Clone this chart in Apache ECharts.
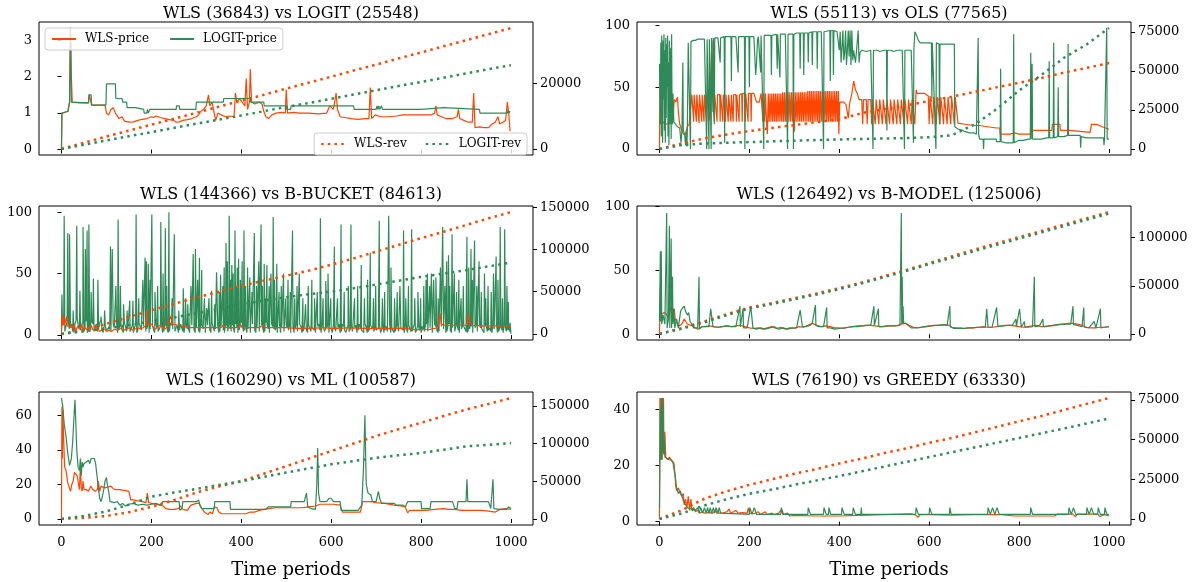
<!DOCTYPE html>
<html><head><meta charset="utf-8">
<script src="https://cdn.jsdelivr.net/npm/echarts@6/dist/echarts.min.js"></script>
<style>html,body{margin:0;padding:0;background:#fff}#c{width:1199px;height:582px}</style>
</head><body><div id="c"></div>
<script>
// ---------------- DATA ----------------
const xTicks = [0, 200, 400, 600, 800, 1000];
const revT = [0,50,100,150,200,250,300,350,400,450,500,550,600,650,700,750,800,850,900,950,1000];

const titles = ['WLS (36843) vs LOGIT (25548)', 'WLS (55113) vs OLS (77565)',
  'WLS (144366) vs B-BUCKET (84613)', 'WLS (126492) vs B-MODEL (125006)',
  'WLS (160290) vs ML (100587)', 'WLS (76190) vs GREEDY (63330)'];

// Panel 1 : WLS vs LOGIT  (flat [t, price, t, price, ...])
const wlsPriceLogit = [0,0,1,1.0,8,1.02,15,1.05,18,1.3,20,3.3,22,2.0,24,1.3,40,1.28,60,1.28,62,1.5,65,1.45,67,1.22,97,1.22,100,1.0,105,0.95,110,1.1,115,1.15,120,1.0,128,0.85,135,0.9,140,0.78,150,0.75,160,0.76,170,0.8,180,0.83,190,0.85,200,0.9,205,0.88,210,0.92,220,0.88,230,0.85,240,0.82,250,0.8,255,0.75,262,0.76,270,0.8,280,0.82,290,0.85,300,0.9,305,0.95,310,1.05,316,1.1,322,1.2,327,1.5,330,1.2,335,1.3,339,1.25,343,0.8,348,1.0,355,0.95,365,0.9,375,0.92,384,0.9,387,1.55,390,1.3,396,1.4,402,1.3,408,1.2,411,1.95,414,1.1,418,1.3,420,2.2,423,1.3,430,1.25,440,1.3,446,1.25,450,1.05,455,0.9,461,0.85,468,0.95,477,1.0,490,1.02,498,1.0,500,1.65,503,1.0,515,1.02,530,1.0,550,1.0,570,0.98,590,1.0,597,1.2,605,1.1,611,1.55,614,1.1,620,0.9,630,0.88,645,0.85,660,0.83,675,0.85,684,0.85,687,1.7,690,0.85,698,0.95,710,0.9,730,0.9,745,0.92,760,0.95,780,0.95,800,0.95,822,0.95,830,1.0,833,1.2,836,0.95,845,0.9,855,0.85,870,0.85,880,0.9,883,1.1,886,0.85,895,0.8,905,0.75,914,0.75,917,1.55,920,0.6,930,0.62,940,0.6,950,0.6,958,0.7,965,0.75,971,0.9,975,0.7,982,0.75,988,0.8,992,1.3,995,1.0,998,0.5];
const logitPrice = [0,0,1,1.0,8,1.03,14,1.05,18,1.3,20,3.35,22,1.3,60,1.28,61,1.5,66,1.5,67,1.22,99,1.22,100,1.8,120,1.8,121,1.4,135,1.4,136,1.3,145,1.3,146,1.15,165,1.15,166,1.1,183,1.1,184,1.0,190,1.0,191,1.1,193,1.0,196,1.1,255,1.1,256,1.2,262,1.2,263,1.1,299,1.1,300,1.3,360,1.3,361,1.4,420,1.4,421,1.3,450,1.3,451,1.2,500,1.2,501,1.1,510,1.1,511,1.2,650,1.2,651,1.1,700,1.1,702,1.2,704,1.1,706,1.2,708,1.1,712,1.2,714,1.1,800,1.1,801,1.15,850,1.15,851,1.1,930,1.1,931,1.0,992,1.0,994,1.1,996,1.0,998,1.05];
const wlsRevLogit = [0,1900,3800,5600,7400,9200,11000,12900,14700,16500,18400,20200,22000,23900,25700,27600,29400,31300,33100,35000,36843];
const logitRev = [0,1300,2600,3900,5100,6400,7700,8900,10200,11500,12800,14000,15300,16600,17900,19200,20400,21700,23000,24300,25548];

// Panel 2 : WLS vs OLS
const wlsPriceOls = [0,0,1,66,2,25,3,40,5,20,10,22,15,20,20,21,25,22,28,35,30,25,33,40,36,38,40,42,42,30,45,20,50,15,53,12,58,12,62,18,66,20,70,21,
 72,44,75,43,76,22,77,44,81,44,82,22,83,44,87,44,88,21,89,44,93,44,94,22,95,44,98,44,99,22,100,44,104,44,105,22,106,44,110,44,111,23,112,44,116,44,117,88,118,44,121,44,122,22,123,44,127,44,128,22,129,44,134,44,135,22,136,44,140,44,141,22,142,44,146,44,147,22,148,44,152,44,153,22,154,44,158,44,159,22,160,44,163,44,164,22,165,44,170,44,171,22,172,44,176,44,177,22,178,44,183,45,184,22,185,45,190,45,191,22,192,45,196,45,197,22,198,45,203,45,204,22,205,45,210,45,213,45,216,38,222,38,226,45,
 228,45,230,22,232,45,234,22,236,45,238,22,240,12,242,45,244,22,246,45,248,22,250,45,252,22,254,45,256,22,258,45,260,22,262,45,264,22,266,45,268,22,270,45,272,22,274,46,276,22,278,46,280,22,282,46,284,22,286,46,288,22,290,46,292,22,294,46,296,22,298,46,300,14,302,46,304,22,306,46,308,22,310,46,312,22,314,46,316,22,318,46,320,22,322,46,324,22,326,46,328,22,330,47,332,22,334,47,336,22,338,47,340,22,342,47,344,22,346,47,348,22,350,47,352,22,354,47,356,22,358,47,360,22,362,47,364,22,366,47,368,22,370,47,372,22,374,47,376,22,378,47,380,22,382,47,384,22,386,47,388,22,390,47,392,22,394,47,396,22,398,47,
 399,12,401,38,405,37,410,38,415,36,420,25,423,37,428,45,432,55,436,48,440,45,444,40,450,40,452,20,454,40,460,40,462,20,464,40,470,40,472,20,474,40,478,40,480,20,482,40,486,40,488,20,490,40,494,40,496,20,498,40,502,40,504,20,506,40,510,40,512,20,514,40,518,40,520,20,522,40,526,40,528,20,530,40,534,40,536,20,538,40,542,40,544,20,546,40,550,40,552,20,554,40,558,40,560,20,562,40,566,40,568,20,571,48,573,45,580,45,590,45,598,43,600,20,602,43,606,42,608,20,610,42,614,42,616,20,618,42,622,42,624,20,626,42,630,42,632,20,634,42,638,42,640,20,642,42,646,42,648,20,650,42,654,42,656,20,658,42,662,42,664,21,680,20,700,19,712,19,730,18,750,17,757,17,758,12,780,12,790,13,800,12,825,12,826,15,850,15,873,15,874,20,891,20,892,15,912,15,913,13.5,958,13.5,961,20,972,20,985,18,1000,16];
const olsPrice = [0,69,2,20,3,86,4,10,5,92,6,30,7,5,8,88,9,40,10,93,11,15,12,80,13,5,14,90,15,25,16,85,17,50,18,92,19,10,20,70,21,3,22,88,23,20,24,60,25,82,26,8,27,93,28,30,29,20,30,45,32,22,36,20,40,18,45,17,48,5,50,15,52,70,53,15,56,12,58,3,60,15,61,2,62,16,64,86,66,87,68,87,69,0,70,87,75,88,80,88,85,89,90,89,100,89,104,89,105,0,106,89,109,89,110,0,111,89,114,90,115,0,116,90,118,90,119,30,120,90,122,20,123,90,130,90,134,90,135,70,136,90,140,90.5,144,91,145,5,146,91,150,91,159,91,160,55,161,91,170,91,174,91,175,62,176,91,180,91,189,91,190,0,191,91,199,91,200,50,201,91,210,91,213,91,214,60,216,70,218,88,220,91,224,92,225,62,226,92,230,92,231,92,232,0,233,92,240,92,248,92,249,60,250,92,260,93,262,65,263,93,267,93,268,58,269,93,280,93,284,93,285,0,286,93,290,93,297,93,298,0,299,93,305,94,312,94,313,65,314,94,320,94,321,60,322,94,330,94,331,70,332,94,339,95,340,68,341,95,350,95,351,65,352,95,360,95,364,95,365,0,366,95,370,96,379,96,380,55,381,96,386,96,387,60,388,96,395,95,398,95,400,80,402,95,404,70,406,82,408,96,410,72,412,78,414,96,416,68,418,80,420,96,422,75,424,96,426,68,428,96,430,72,432,80,436,70,438,78,442,96,444,70,446,78,450,80,452,80,460,79,470,80,475,0,476,80,485,80,490,79,500,80,505,80,506,15,507,80,515,80,520,79,530,80,540,80,545,0,546,80,555,80,560,80,565,5,566,80,568,95,572,92,576,88,580,86,590,86,600,86,605,86,606,40,607,86,610,86,615,0,616,86,620,85,622,85,623,20,624,85,630,85,640,85,650,85,656,85,657,18,665,16,675,15,680,14,690,13,700,13,705,12,708,12,709,90,710,12,712,8,720,8,721,0,722,8,730,8,740,8,749,8,750,6,758,6,759,65,760,6,770,5,780,5,787,5,788,93,789,5,794,6,800,7,810,7,820,8,825,8,826,78,827,8,829,69,830,8,840,8,850,8,860,9,866,9,867,71,868,9,876,9,877,86,878,9,886,10,887,50,888,10,900,10,908,11,909,85,910,11,920,11,930,11,936,11,937,1,938,10,950,9,960,9,970,9,980,9,988,9,989,3,990,8,994,8,995,98,996,8,1000,8];
const wlsRevOls = [0,3500,6800,9300,11500,13500,15300,17200,19000,23000,25500,28000,30800,33500,36500,39500,42500,45500,49000,52000,55113];
const olsRev = [0,2500,3500,4000,4400,4900,5300,5700,6100,6400,6700,7000,7500,8800,15500,25500,37500,47500,58500,67000,77565];

// Panel 3 : WLS vs B-BUCKET
const wlsPriceBucket = [0,0,1,16,3,8,5,16,6,8,10,7,12,15,13,8,18,6,22,9,25,5,28,8,32,4,36,7,40,5,45,9,48,4,52,6,58,4,62,5,66,8,70,4,76,5,80,7,84,3,90,4,96,5,100,3,106,4,112,3,118,5,124,4,130,5,136,6,140,4,146,5,152,6,158,4,164,5,170,6,176,5,182,6,188,8,190,18,192,8,196,7,200,9,205,6,210,5,215,7,220,8,225,6,230,5,236,7,240,6,244,16,246,9,250,8,260,8,270,7,280,6.5,290,6,300,6,320,6,340,6,355,6,360,8,364,6,380,6,395,6,398,9,402,6,420,6,440,6,447,8,452,6,470,6,500,6,520,5.5,540,5.5,560,5.5,580,6,600,5.5,620,5.5,640,6,660,5.5,680,5.5,700,5.5,720,5.5,740,5.5,760,5.5,775,5,780,4.5,800,4.5,820,4.6,830,5.5,838,6,842,18,845,9,850,8,870,8,890,8,902,8,906,17,909,9,915,8,930,7.5,950,7.5,970,7.5,1000,7.5];
// B-BUCKET price: levels at t = 0,5,10,... ; levels at t = 2.5,7.5,... ; single-period spikes [t, price]
const bucketBaseA = [5,10,4,12,6,3,9,14,5,8,3,11,6,4,9,7,3,10,5,8,4,
 6,3,9,5,2,8,4,10,3,6,5,2,9,4,7,3,8,5,2,6,
 4,9,3,7,2,10,5,3,8,4,6,2,9,3,7,5,2,8,4,6,
 3,9,5,2,8,4,10,3,6,2,7,4,9,3,5,8,2,6,4,10,
 3,7,5,2,9,4,6,3,8,2,10,5,3,7,4,2,9,6,3,8,
 4,2,7,5,3,9,2,6,4,8,3,5,2,7,4,9,3,6,2,5,
 8,3,6,2,9,4,5,3,7,2,8,4,6,3,9,2,5,7,3,4,
 6,2,8,4,3,9,5,2,7,3,6,4,8,2,5,3,9,4,6,2,
 5,8,3,6,2,9,4,3,7,5,2,8,4,6,3,9,2,5,7,3,
 4,8,2,6,3,9,5,2,7,4,3,8,5,2,6,4,9,3,5,1];
const bucketBaseB = [8,3,11,5,9,2,12,7,4,10,6,2,8,11,3,9,5,12,2,7,
 3,8,2,6,10,4,7,2,9,5,3,8,6,2,10,4,7,3,9,5,
 8,2,6,4,9,3,7,2,10,5,3,8,4,6,2,9,5,3,7,2,
 6,2,8,4,3,7,2,9,5,8,3,6,2,7,10,3,5,9,2,7,
 8,4,2,6,3,10,2,7,4,6,3,8,2,9,5,6,3,2,7,4,
 6,8,3,2,9,4,7,3,5,2,8,6,4,3,9,2,7,5,8,3,
 2,6,4,9,3,7,2,8,5,3,6,2,9,4,2,7,3,8,5,6,
 3,8,5,2,7,4,2,6,3,9,4,7,2,5,8,3,6,2,8,4,
 7,3,9,4,6,3,7,2,4,8,6,3,9,2,5,7,4,2,8,6,
 2,5,7,3,9,2,6,4,8,3,6,2,5,9,3,7,2,6,4,3];
const bucketSpikes = [1,33,6,97,14,83,18,82,26,20,34,89,41,36,48,88,53,70,57,85,61,90,66,35,71,46,81,45,88,15,96,20,109,72,113,70,121,40,126,94,131,40,138,25,146,20,152,28,159,28,166,98,172,30,181,45,186,63,189,60,193,58,197,45,201,98,208,35,214,40,221,92,226,50,231,87,234,40,239,100,246,30,251,82,261,20,271,38,276,30,281,25,288,40,293,66,298,70,303,45,307,63,312,53,318,30,323,22,328,30,334,36,341,25,345,51,351,35,354,49,359,40,362,55,366,75,369,60,373,97,376,45,379,57,382,50,386,85,388,40,391,55,394,62,398,45,402,60,406,85,409,40,414,55,419,47,424,35,429,83,434,40,439,60,444,90,447,40,451,58,454,30,457,57,462,40,466,50,471,96,474,45,479,58,484,35,489,40,494,50,499,30,504,45,509,35,514,85,519,30,524,40,529,50,537,30,543,25,549,40,557,45,563,30,569,35,576,95,582,30,588,44,593,50,599,30,607,72,614,30,622,90,629,35,638,40,644,90,652,30,659,40,667,57,674,30,681,45,687,67,694,30,699,40,707,93,714,30,719,35,728,97,733,55,741,30,747,35,753,40,761,85,766,30,772,40,779,86,786,30,793,35,799,30,806,40,811,45,814,50,819,40,823,50,828,45,833,47,838,30,843,55,848,88,853,40,857,60,861,65,864,40,869,82,874,50,879,35,884,45,889,30,894,40,902,80,906,55,911,70,914,45,919,77,924,40,929,60,934,35,941,50,944,30,949,40,956,35,961,50,967,64,971,45,976,88,981,30,986,86,991,40,994,27,998,10];
const wlsRevBucket = [0,5000,12000,20000,28000,35500,43000,50000,57000,63000,69000,75000,82000,89500,97500,105500,113500,121000,129000,137000,144366];
const bucketRev = [0,3000,6500,10500,15000,19500,24500,29500,35000,39500,43500,47000,50000,54000,58500,63000,67500,71500,75500,80000,84613];

// Panel 4 : WLS vs B-MODEL
const wlsPriceModel = [0,0,2,38,3,15,6,16,10,17,15,16,20,13,24,12,26,22,28,15,31,18,33,20,35,12,38,10,42,6,46,5,50,8,55,12,58,11,62,8,66,9,70,7,75,6,80,5,85,4,90,5,95,6,100,6,110,6.5,120,6,130,5.5,140,6,150,6.5,160,6,170,6.5,180,7,190,6,200,5,210,4.5,220,5,230,4,240,5,250,6,260,4.5,270,5.5,280,4,290,5,300,4.5,310,6,320,5.5,330,7,340,8.5,350,7,360,6,370,6.5,380,6,390,5,400,5,410,4.5,420,5.5,430,6,440,6.5,450,6.5,460,7,470,7,480,6.5,490,6,500,6,510,6.5,520,6.5,530,7,538,8,542,9,548,8.5,555,7,565,5.5,575,5,585,5.5,595,6,605,6.5,615,7,625,7,635,7.5,645,7,650,5.5,660,5,670,5,680,4.5,690,5,700,5,710,5.5,720,6,730,5.5,740,5.5,750,6,760,6.5,770,7,780,7,790,6.5,800,6,810,5.5,820,6,830,6.5,840,7,850,6,860,6,870,6.5,880,7,890,7.5,900,8,910,8.5,920,8.5,930,8,940,7,950,5.5,960,5,970,5,980,5.5,990,5.5,1000,6];
const modelPrice = [0,10,2,65,3,10,4,65,5,8,8,15,12,8,16,95,17,5,20,12,22,85,23,5,26,75,27,5,29,45,30,8,32,20,34,5,38,12,42,5,47,18,50,20,55,22,58,18,62,15,65,17,68,10,72,8,76,5,80,4,85,5,88,45,89,4,95,6,100,6,110,6,114,20,118,20,119,6,130,5.5,140,6,150,6.5,160,6,170,6,179,22,180,6,186,20,187,5,195,5,203,22,207,22,208,5,215,4,225,5,235,4,245,5,255,6,265,4,275,5,285,4,295,5,305,5,313,19,317,19,318,6,325,6,335,7,340,9,347,23,348,7,355,6,365,6,372,21,373,5,380,5,390,4,400,4.5,410,5,420,5.5,430,6,440,6,450,6.5,460,7,470,7,477,22,478,7,487,20,488,6,495,6,505,6.5,515,6.5,525,6.5,535,7,538,95,539,8,540,45,541,8,542,22,543,9,550,8,560,5,570,5,580,5.5,590,6,600,6.5,610,7,620,7,630,7.5,640,7,646,22,647,6,655,4.5,665,4.5,675,4.5,685,5,695,5,705,5.5,715,5.5,725,5.5,728,20,730,20,731,5.5,740,5.5,750,21,752,21,753,6,765,6.5,775,7,785,7,793,12,794,6,801,20,804,20,805,5.5,812,10,813,5.5,820,5.5,830,6,834,45,835,6,845,6.5,853,12,854,6,865,6.5,875,7,885,7.5,895,8,905,8,915,8,920,22,921,7.5,930,7,940,6,944,21,945,5.5,955,5,967,10,970,10,971,5,981,20,982,5,990,5.5,1000,6];
const wlsRevModel = [0,6000,13000,20500,27500,32000,37000,42000,47500,53500,60000,66500,73500,80500,87500,94000,100500,107000,113500,120000,126492];
const modelRev = [0,5500,12000,19500,26500,31000,36000,41000,46500,52500,59000,65500,72500,79000,86000,92500,99000,105500,112000,118500,125006];

// Panel 5 : WLS vs ML
const wlsPriceMl = [0,0,1,65,2,35,3,63,5,45,7,30,10,28,12,27,14,21,17,20,20,16,23,20,26,22,29,27,32,28,35,25,38,20,40,17,42,30,44,18,46,16,48,22,50,17,55,17,60,16,65,19,70,17,75,16,80,17,82,22,85,16,88,19,92,19,96,18,100,19,110,19,115,17.5,120,17,130,17,140,16.5,150,16,154,11,160,11,170,10.5,180,10,188,9.5,191,15,194,9.5,200,9,210,8.5,220,8,226,7.5,232,6,240,5.5,250,5.5,260,6,265,7.5,270,5.5,280,5,288,8,300,9,306,9,310,7,318,4,322,5,326,2.5,330,4,336,3,340,7,346,6.5,350,4,356,3,365,3,380,3,395,3,410,3,420,4,430,4,440,5,450,5.5,460,6,475,6.5,490,6.5,505,6.5,520,6.5,535,6.5,550,7,565,7.5,575,8.5,590,8.5,605,8.5,620,8,625,4,640,4,655,4,665,4,670,10,680,10,690,10,700,9.5,720,9,740,8,755,7.5,765,7,770,3.5,775,5,790,5,810,5,830,5.5,850,6,860,5.5,875,5.5,890,5,905,5,920,5,935,5,950,4.5,965,4,975,5.5,990,6,1000,5.5];
const mlPrice = [0,70,3,65,6,55,10,48,14,38,18,31,22,35,25,45,28,60,30,69,32,55,34,40,37,30,40,28,42,35,44,25,46,33,48,30,50,32,55,33,60,34,63,32,66,35,70,34,73,35,76,32,79,25,82,18,85,12,88,10,91,13,94,17,97,22,100,24,102,20,105,16,108,10,112,10,118,9.5,124,10,130,8,136,9,142,7.5,150,8.5,160,9,170,8,180,8.5,190,8,200,8.5,210,9,220,8,225,10,240,10,255,10,262,10,263,5,268,6,270,10,290,10,300,10,305,11,308,8,312,6,320,6,340,6,341,10,375,10,376,5.5,400,5.5,430,5.5,455,5.5,460,7,480,7,500,7,510,7,511,10,540,10,545,15,548,7,555,6,565,5.5,568,20,570,41,572,15,575,10,590,10,595,12,600,12,605,10,620,10,622,5,660,5,668,8,672,30,675,60,678,20,682,15,688,14,692,10,700,10,705,16,708,12,712,9,740,9,745,8,760,8,765,7,770,10,800,10,801,6,820,6,822,10,850,10,870,10,875,6,880,6,882,10,900,10,902,23,904,10,930,10,950,10,955,6,958,6,960,23,962,6,975,5.5,990,5.5,995,7,1000,6];
const wlsRevMl = [0,1500,4000,9000,16000,25000,35000,43000,50000,60000,70000,80000,90000,100000,110000,119000,127500,136500,145000,152500,160290];
const mlRev = [0,4000,10000,19000,29500,35000,39800,45000,49900,55800,61600,67000,72400,76800,81100,84300,87500,91800,96200,98400,100587];

// Panel 6 : WLS vs GREEDY
const wlsPriceGreedy = [0,1,1,44,2,22,3,44,4,25,5,44,6,22,7,44,8,28,9,44,10,24,12,32,14,23,18,22,22,23,26,22,30,22,32,21,34,18,36,13,38,11,42,12,46,10,50,9,53,10,55,6,58,8,61,5,64,9,67,4,70,8,72,4,76,5,80,3.5,85,4,90,3,95,3.5,100,3,110,3.2,118,3,125,4,128,3,140,3,150,3.5,155,4.5,158,3,165,3.5,170,4,175,3,185,3.2,195,3,198,5,200,3,210,2.8,220,3.5,225,2.5,235,3.5,240,2.5,250,3,255,2.5,265,3,270,4,275,2.5,285,3,290,2,300,2.2,350,2,400,2,440,2.2,450,2.2,500,2.5,560,2.8,570,2.3,575,1.5,580,2.5,600,2.5,650,2.3,700,2.5,760,2.5,790,2,800,2,880,2,885,2.7,920,2.7,925,1.8,930,2.7,975,2.7,980,1.8,990,2.5,1000,2];
const greedyPrice = [0,5,2,40,3,22,4,44,5,22,6,42,7,25,8,44,9,24,10,30,12,23,15,23,20,22,25,22,30,21,33,18,36,15,38,12,42,10,46,11,50,9,54,7,58,6,62,5,66,5,70,4.5,75,4.5,80,4,85,5,88,3,92,5,96,3,100,5,104,3,107,5,110,3,113,5,116,3,120,5,123,3,126,5,130,3,133,5,136,3,140,2.6,200,2.6,201,5,205,5,206,2.6,210,2.6,211,5,215,5,216,2.6,270,2.6,271,5,275,5,276,2.6,330,2.6,331,5,335,5,336,2.6,365,2.6,366,5,370,5,371,2.6,376,2.6,377,5,380,5,381,2.6,405,2.6,406,5,410,5,411,2.6,430,2.6,431,5,435,5,436,2.6,448,2.6,449,5,450,2.6,570,2.6,571,5,575,5,576,2.6,600,2.6,601,5,605,5,606,2.6,645,2.6,646,5,648,5,649,2.6,730,2.6,731,5,735,5,736,2.6,740,2.6,741,5,745,5,746,2.6,750,2.6,751,5,755,5,756,2.6,825,2.6,826,5,829,5,830,2.6,910,2.6,911,5,915,5,916,2.6,920,2.6,921,5,925,5,926,2.6,950,2.6,951,5,955,5,956,2.6,960,2.6,961,5,965,5,966,2.6,975,2.6,976,5,980,5,981,2.6,990,2.6,991,5,994,5,995,2.6,1000,2.6];
const wlsRevGreedy = [0,5500,12800,17500,21500,25000,28500,31500,35000,38000,41500,44500,48000,51000,54500,58000,61500,64900,68700,72500,76190];
const greedyRev = [0,3500,8500,12500,15800,18500,21500,24300,27000,30000,33000,36000,39000,42000,45000,48000,51000,54000,57000,60100,63330];

// ---------------- BUILD ----------------
const FONT = 'DejaVu Serif';
const ORANGE = '#FF4500', GREEN = '#2E8B57';
function pairs(flat){ const o=[]; for(let i=0;i<flat.length;i+=2) o.push([flat[i],flat[i+1]]); return o; }
function zipT(ts, vs){ return ts.map((t,i)=>[t, vs[i]]); }
const bucketPrice = bucketBaseA.map((v,i)=>[i*5, v])
  .concat(bucketBaseB.map((v,i)=>[i*5+2.5, v]))
  .concat(pairs(bucketSpikes)).sort((a,b)=>a[0]-b[0]);

const panels = [
 {g:{left:39,top:22,width:494,height:133}, y:[-0.15,3.5], yt:[0,1,2,3], r:[-1842,38685], rt:[0,20000],
  p1:pairs(wlsPriceLogit), p2:pairs(logitPrice), r1:wlsRevLogit, r2:logitRev, n:['WLS-price','LOGIT-price','WLS-rev','LOGIT-rev']},
 {g:{left:637,top:22,width:494,height:133}, y:[-4.9,102.9], yt:[0,50,100], r:[-3878,81443], rt:[0,25000,50000,75000],
  p1:pairs(wlsPriceOls), p2:pairs(olsPrice), r1:wlsRevOls, r2:olsRev},
 {g:{left:39,top:206,width:494,height:134}, y:[-4,105], yt:[0,50,100], r:[-7218,151584], rt:[0,50000,100000,150000],
  p1:pairs(wlsPriceBucket), p2:bucketPrice, r1:wlsRevBucket, r2:bucketRev, orangeTop:true},
 {g:{left:637,top:206,width:494,height:134}, y:[-4.5,100.5], yt:[0,50,100], r:[-6325,132817], rt:[0,50000,100000],
  p1:pairs(wlsPriceModel), p2:pairs(modelPrice), r1:wlsRevModel, r2:modelRev},
 {g:{left:39,top:392,width:494,height:133}, y:[-3.5,73.5], yt:[0,20,40,60], r:[-8015,168305], rt:[0,50000,100000,150000],
  p1:pairs(wlsPriceMl), p2:pairs(mlPrice), r1:wlsRevMl, r2:mlRev},
 {g:{left:637,top:392,width:494,height:133}, y:[-1.2,46.1], yt:[0,20,40], r:[-3810,80000], rt:[0,25000,50000,75000],
  p1:pairs(wlsPriceGreedy), p2:pairs(greedyPrice), r1:wlsRevGreedy, r2:greedyRev}
];

const lab = {fontFamily:FONT, fontSize:13, color:'#000'};
const option = {animation:false, backgroundColor:'#fff', grid:[], xAxis:[], yAxis:[], series:[], title:[], legend:[]};
panels.forEach((p,i)=>{
  option.grid.push(Object.assign({show:true, borderColor:'#000', borderWidth:1, backgroundColor:'transparent', containLabel:false}, p.g));
  const bottom = i>=4;
  option.xAxis.push({type:'value', gridIndex:i, min:-50, max:1049, splitLine:{show:false}, axisLine:{show:false},
    axisTick:{show:true, length:4, customValues:xTicks, lineStyle:{color:'#000'}},
    axisLabel:{show:bottom, customValues:xTicks, margin:11, formatter:v=>String(v), ...lab}});
  option.yAxis.push({type:'value', gridIndex:i, position:'left', min:p.y[0], max:p.y[1], splitLine:{show:false}, axisLine:{show:false},
    axisTick:{show:true, length:4, customValues:p.yt, lineStyle:{color:'#000'}},
    axisLabel:{customValues:p.yt, margin:7, formatter:v=>String(v), ...lab}});
  option.yAxis.push({type:'value', gridIndex:i, position:'right', min:p.r[0], max:p.r[1], splitLine:{show:false}, axisLine:{show:false},
    axisTick:{show:true, length:4, customValues:p.rt, lineStyle:{color:'#000'}},
    axisLabel:{customValues:p.rt, margin:7, formatter:v=>String(v), ...lab}});
  const names = p.n || ['a'+i,'b'+i,'c'+i,'d'+i];
  const base = {type:'line', xAxisIndex:i, symbol:'none', showSymbol:false, silent:true, clip:true};
  option.series.push(Object.assign({}, base, {name:names[0], yAxisIndex:2*i, z:p.orangeTop?3:2, data:p.p1, lineStyle:{color:ORANGE, width:1.2}, itemStyle:{color:ORANGE}}));
  option.series.push(Object.assign({}, base, {name:names[1], yAxisIndex:2*i, z:2, data:p.p2, lineStyle:{color:GREEN, width:1.2}, itemStyle:{color:GREEN}}));
  option.series.push(Object.assign({}, base, {name:names[2], yAxisIndex:2*i+1, z:4, data:zipT(revT,p.r1), lineStyle:{color:ORANGE, width:2.5, type:[2.5,4.2], cap:'butt'}, itemStyle:{color:ORANGE}}));
  option.series.push(Object.assign({}, base, {name:names[3], yAxisIndex:2*i+1, z:4, data:zipT(revT,p.r2), lineStyle:{color:GREEN, width:2.5, type:[2.5,4.2], cap:'butt'}, itemStyle:{color:GREEN}}));
  option.title.push({text:titles[i], left:p.g.left + p.g.width/2, top:p.g.top - (i<2 ? 21 : 24), textAlign:'center',
    textStyle:{fontFamily:FONT, fontSize:16, fontWeight:'normal', color:'#000'}});
  if(bottom) option.title.push({text:'Time periods', left:p.g.left + p.g.width/2, top:556, textAlign:'center',
    textStyle:{fontFamily:FONT, fontSize:18, fontWeight:'normal', color:'#000'}});
});
const legBase = {orient:'horizontal', itemWidth:24, itemHeight:10, selectedMode:false,
  itemStyle:{color:'transparent', borderColor:'transparent', borderWidth:0, opacity:0},
  textStyle:{fontFamily:FONT, fontSize:12, color:'#000', padding:[0,0,0,4]},
  borderColor:'#ccc', borderWidth:1, borderRadius:3, backgroundColor:'rgba(255,255,255,0.8)', padding:[5,6,5,6]};
option.legend.push(Object.assign({}, legBase, {data:['WLS-price','LOGIT-price'], left:45, top:28, itemGap:20}));
option.legend.push(Object.assign({}, legBase, {data:['WLS-rev','LOGIT-rev'], right:672, top:133, itemGap:18}));

const chart = echarts.init(document.getElementById('c'), null, {renderer:'canvas'});
chart.setOption(option);
</script></body></html>
